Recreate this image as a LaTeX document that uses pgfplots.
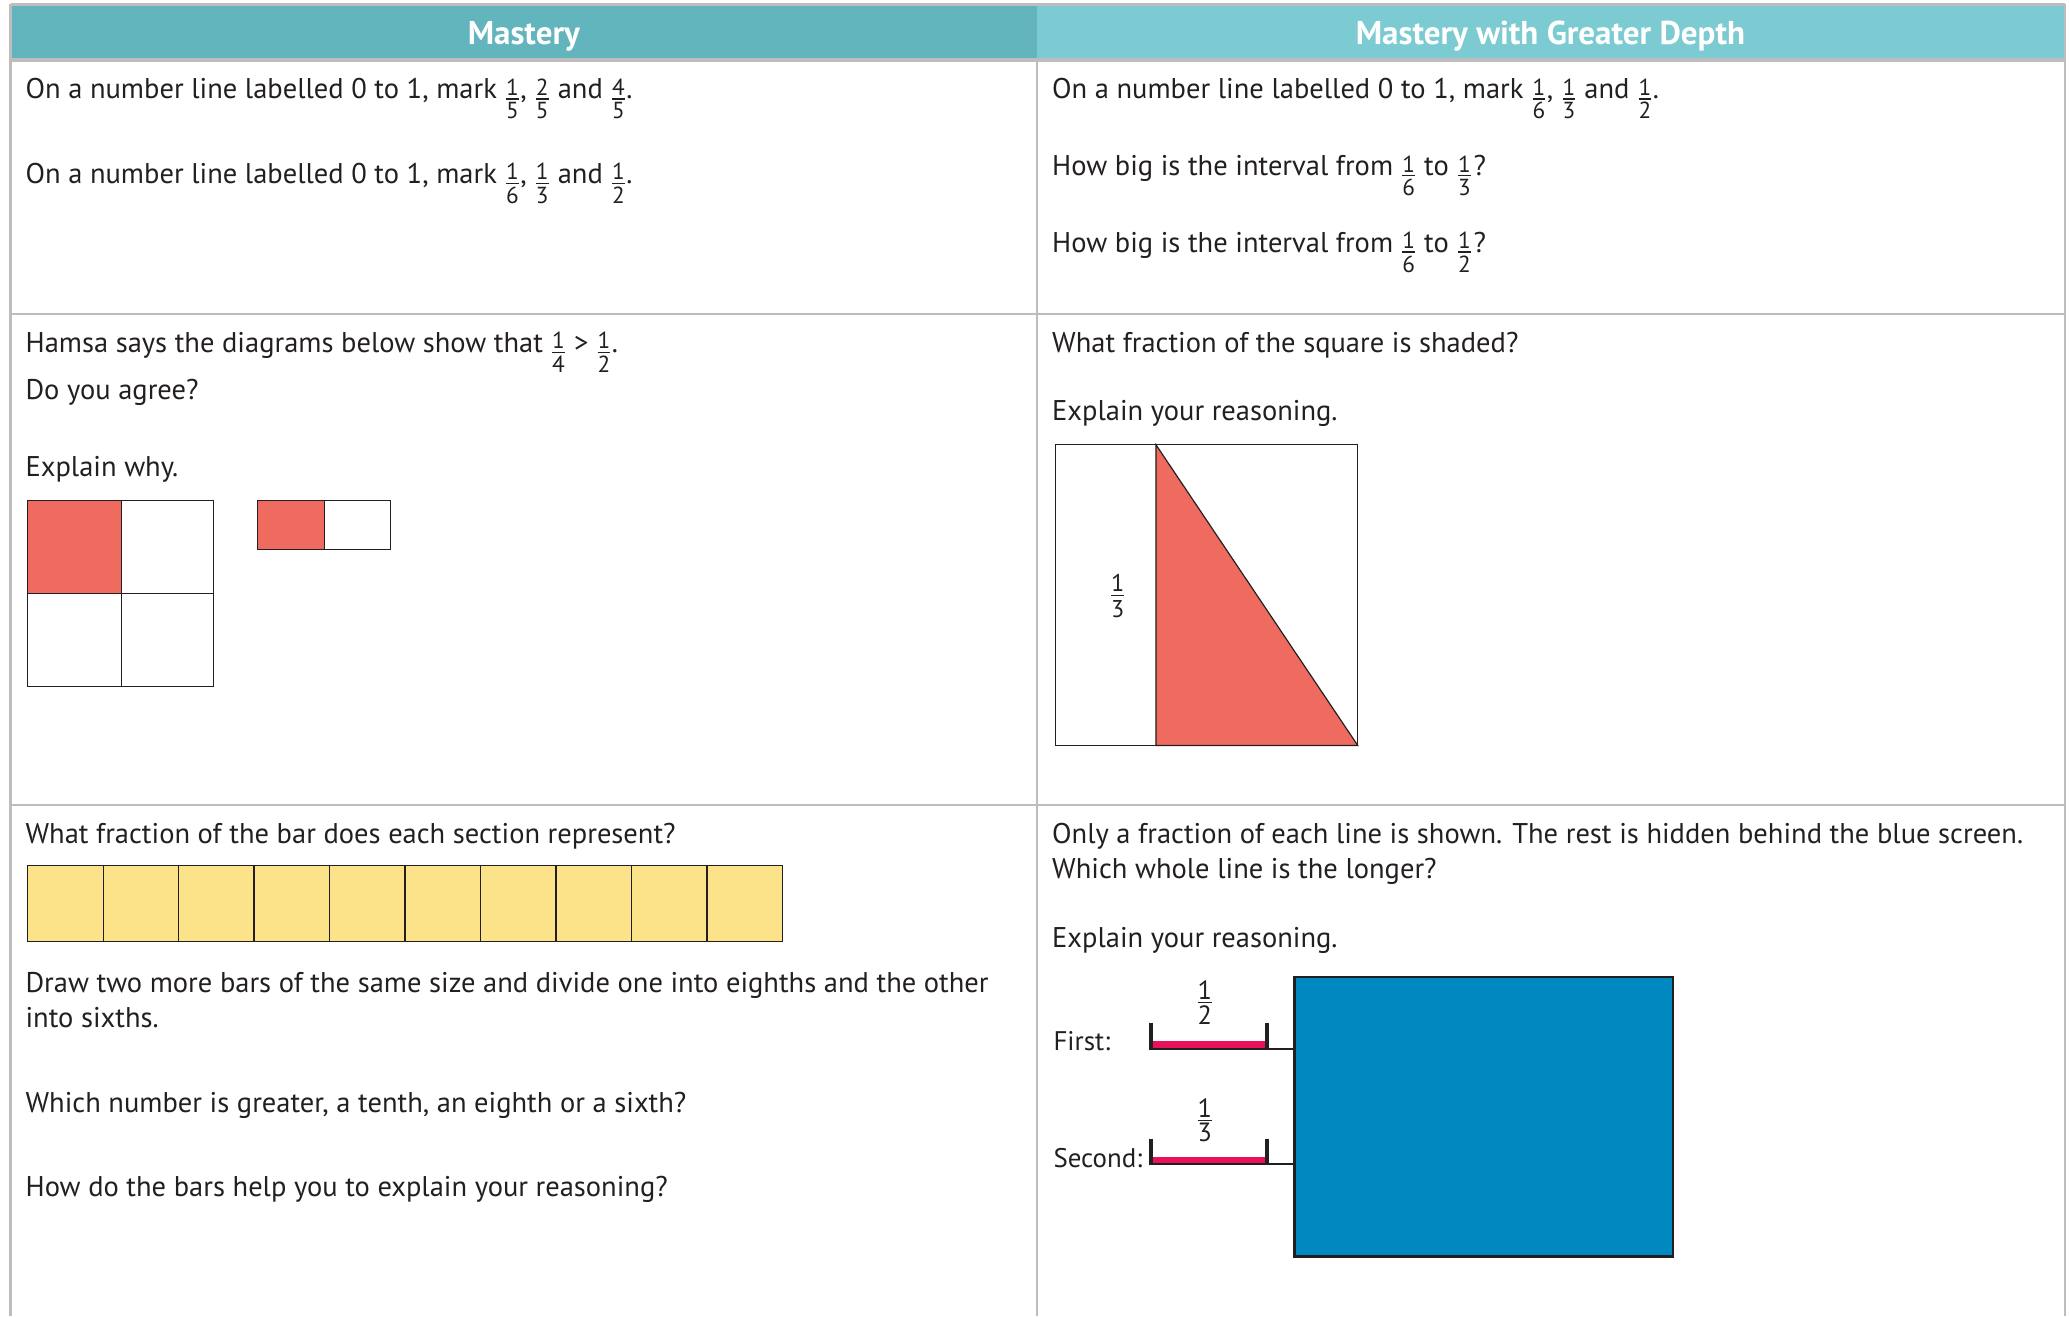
\documentclass[border=0pt]{standalone}
\usepackage{pgfplots}
\pgfplotsset{compat=1.18}
\usepackage{fontspec}
\setmainfont{PT Sans}
\definecolor{hdrA}{HTML}{62B4BD}
\definecolor{hdrB}{HTML}{7CCBD2}
\definecolor{rule}{HTML}{BDBDBD}
\definecolor{ink}{HTML}{231F20}
\definecolor{coral}{HTML}{EF6B5F}
\definecolor{sand}{HTML}{FCE288}
\definecolor{screen}{HTML}{0089C1}
\definecolor{pinkbar}{HTML}{E8125A}
% stacked fraction: #1 size, #2 num, #3 den, #4 gap; bar sits on the baseline
\newcommand\vfr[4]{\begingroup\fontsize{#1}{#1}\selectfont
  \setbox0\hbox{#2}\setbox2\hbox{#3}%
  \dimen0=\wd0 \ifdim\wd2>\dimen0 \dimen0=\wd2\fi
  \rlap{\raisebox{#4}{\hbox to\dimen0{\hss\copy0\hss}}}%
  \rlap{\raisebox{-0.22pt}{\rule{\dimen0}{0.45pt}}}%
  \raisebox{\dimexpr-#4-\ht2\relax}{\hbox to\dimen0{\hss\copy2\hss}}%
  \endgroup}
\newcommand\fr[2]{\kern0.6pt\relax\vfr{8.8}{#1}{#2}{1.3pt}\kern0.6pt\relax}
\tikzset{
  T/.style={anchor=base west, inner sep=0pt, text=ink, font=\fontsize{10.8}{13}\selectfont},
  H/.style={anchor=base, inner sep=0pt, text=white, font=\fontsize{12.5}{14}\selectfont\bfseries},
}
\begin{document}
\begin{tikzpicture}
\begin{axis}[
  width=784pt, height=498.5pt, scale only axis,
  xmin=0, xmax=1568, ymin=0, ymax=997, y dir=reverse,
  hide axis, clip=false, no markers,
]
% full page frame (keeps the bounding box)
\addplot[draw=none] coordinates {(0,0) (1568,997)};
% header cells
\addplot[draw=none, fill=hdrA] coordinates {(8,4) (786,4) (786,45) (8,45)} -- cycle;
\addplot[draw=none, fill=hdrB] coordinates {(786,4) (1565,4) (1565,45) (786,45)} -- cycle;
\node[H] at (axis cs:397,34) {Mastery};
\node[H] at (axis cs:1175,34) {Mastery with Greater Depth};

% table rules
\addplot[rule, line width=0.9pt] coordinates {(8,3.5) (1565,3.5)};
\addplot[rule, line width=1.2pt] coordinates {(8,45.5) (1565,45.5)};
\addplot[rule, line width=1pt] coordinates {(8,238) (1565,238)};
\addplot[rule, line width=1pt] coordinates {(8,610) (1565,610)};
\addplot[rule, line width=1pt] coordinates {(8,3) (8,997)};
\addplot[rule, line width=1pt] coordinates {(1565,3) (1565,997)};
\addplot[rule, line width=1pt] coordinates {(786,45) (786,997)};

% row 1
\node[T] at (axis cs:19,75) {On a number line labelled 0 to 1, mark \fr15, \fr25 and \fr45.};
\node[T] at (axis cs:19,139) {On a number line labelled 0 to 1, mark \fr16, \fr13 and \fr12.};
\node[T] at (axis cs:797,75) {On a number line labelled 0 to 1, mark \fr16, \fr13 and \fr12.};
\node[T] at (axis cs:797,133) {How big is the interval from \fr16 to \fr13\kern0.5pt?};
\node[T] at (axis cs:797,191) {How big is the interval from \fr16 to \fr12\kern0.5pt?};

% row 2 left
\node[T] at (axis cs:19,267) {Hamsa says the diagrams below show that \fr14 > \fr12.};
\node[T] at (axis cs:19,303) {Do you agree?};
\node[T] at (axis cs:19,361) {Explain why.};
\addplot[draw=none, fill=coral] coordinates {(21,379) (92,379) (92,450) (21,450)} -- cycle;
\addplot[ink, line width=0.45pt] coordinates {(21,379) (162,379) (162,520) (21,520)} -- cycle;
\addplot[ink, line width=0.45pt] coordinates {(92,379) (92,520)};
\addplot[ink, line width=0.45pt] coordinates {(21,450) (162,450)};
\addplot[draw=none, fill=coral] coordinates {(195,379) (246,379) (246,416.5) (195,416.5)} -- cycle;
\addplot[ink, line width=0.45pt] coordinates {(195,379) (296,379) (296,416.5) (195,416.5)} -- cycle;
\addplot[ink, line width=0.45pt] coordinates {(246,379) (246,416.5)};

% row 2 right
\node[T] at (axis cs:797,267) {What fraction of the square is shaded?};
\node[T] at (axis cs:797,319) {Explain your reasoning.};
\addplot[ink, fill=coral, line width=0.45pt] coordinates {(876,337) (1029,565) (876,565)} -- cycle;
\addplot[ink, line width=0.45pt] coordinates {(800,337) (1029,337) (1029,565) (800,565)} -- cycle;
\node[anchor=base, inner sep=0pt, text=ink] at (axis cs:847,451.5) {\vfr{9.2}{1}{3}{1.8pt}};

% row 3 left
\node[T] at (axis cs:19,639) {What fraction of the bar does each section represent?};
\addplot[ink, fill=sand, line width=0.5pt] coordinates {(21,656) (593,656) (593,713.5) (21,713.5)} -- cycle;
\addplot[ink, line width=0.5pt] coordinates {(78.2,656) (78.2,713.5)};
\addplot[ink, line width=0.5pt] coordinates {(135.4,656) (135.4,713.5)};
\addplot[ink, line width=0.5pt] coordinates {(192.6,656) (192.6,713.5)};
\addplot[ink, line width=0.5pt] coordinates {(249.8,656) (249.8,713.5)};
\addplot[ink, line width=0.5pt] coordinates {(307,656) (307,713.5)};
\addplot[ink, line width=0.5pt] coordinates {(364.2,656) (364.2,713.5)};
\addplot[ink, line width=0.5pt] coordinates {(421.4,656) (421.4,713.5)};
\addplot[ink, line width=0.5pt] coordinates {(478.6,656) (478.6,713.5)};
\addplot[ink, line width=0.5pt] coordinates {(535.8,656) (535.8,713.5)};
\node[T] at (axis cs:19,752) {Draw two more bars of the same size and divide one into eighths and the other};
\node[T] at (axis cs:19,779) {into sixths.};
\node[T] at (axis cs:19,843) {Which number is greater, a tenth, an eighth or a sixth?};
\node[T] at (axis cs:19,907) {How do the bars help you to explain your reasoning?};

% row 3 right
\node[T] at (axis cs:797,639) {Only a fraction of each line is shown. The rest is hidden behind the blue screen.};
\node[T] at (axis cs:797,666) {Which whole line is the longer?};
\node[T] at (axis cs:797,718) {Explain your reasoning.};
\addplot[ink, fill=screen, line width=1pt] coordinates {(981,740.5) (1268,740.5) (1268,952) (981,952)} -- cycle;
\node[T, font=\fontsize{10.2}{12}\selectfont] at (axis cs:798,796) {First:};
\node[T, font=\fontsize{10.2}{12}\selectfont] at (axis cs:798,885) {Second:};
% first line
\addplot[draw=none, fill=pinkbar] coordinates {(873,789) (960,789) (960,794.5) (873,794.5)} -- cycle;
\addplot[ink, line width=0.8pt] coordinates {(872,794.8) (981,794.8)};
\addplot[ink, line width=1.5pt] coordinates {(872.5,775) (872.5,795.5)};
\addplot[ink, line width=1.5pt] coordinates {(960,775) (960,795.5)};
\node[anchor=base, inner sep=0pt, text=ink] at (axis cs:913,760) {\vfr{10}{1}{2}{1.2pt}};
% second line
\addplot[draw=none, fill=pinkbar] coordinates {(873,876.5) (960,876.5) (960,882) (873,882)} -- cycle;
\addplot[ink, line width=0.8pt] coordinates {(872,882.3) (981,882.3)};
\addplot[ink, line width=1.5pt] coordinates {(872.5,863) (872.5,883)};
\addplot[ink, line width=1.5pt] coordinates {(960,863) (960,883)};
\node[anchor=base, inner sep=0pt, text=ink] at (axis cs:913,849) {\vfr{10}{1}{3}{1.2pt}};
\end{axis}
\end{tikzpicture}
\end{document}
